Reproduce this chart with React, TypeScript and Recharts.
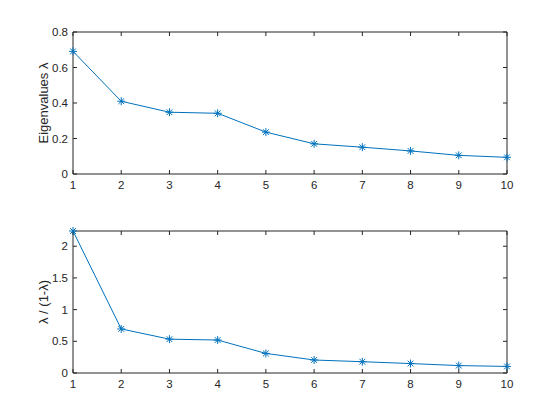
import { LineChart, Line, XAxis, YAxis, Label } from "recharts";

// values
const STEPS = [1, 2, 3, 4, 5, 6, 7, 8, 9, 10];
const EIGENVALUES = [0.691, 0.41, 0.348, 0.342, 0.236, 0.17, 0.151, 0.13, 0.105, 0.094];
const RATIOS = [2.24, 0.695, 0.534, 0.52, 0.309, 0.205, 0.178, 0.149, 0.117, 0.104];

const TOP_TICKS = [0, 0.2, 0.4, 0.6, 0.8];
const BOTTOM_TICKS = [0, 0.5, 1, 1.5, 2];

const data = STEPS.map((step, i) => ({
  step,
  eig: EIGENVALUES[i],
  ratio: RATIOS[i],
}));

const BLUE = "#0072BD";
const INK = "#262626";
const FONT = "'Liberation Sans', Arial, Helvetica, sans-serif";
const tickStyle = { fontSize: 11.5, fill: INK, fontFamily: FONT };

// MATLAB-style '*' marker
function Asterisk(props: any) {
  const { cx, cy } = props;
  if (cx == null || cy == null) return null;
  const r = 4;
  const d = r * 0.72;
  const path =
    `M${cx - r},${cy}L${cx + r},${cy}` +
    `M${cx},${cy - r}L${cx},${cy + r}` +
    `M${cx - d},${cy - d}L${cx + d},${cy + d}` +
    `M${cx - d},${cy + d}L${cx + d},${cy - d}`;
  return <path d={path} stroke={BLUE} strokeWidth={1} fill="none" />;
}

function YTitle({ text }: { text: string }) {
  return (props: any) => {
    const vb = props.viewBox;
    const x = 48;
    const y = vb.y + vb.height / 2;
    return (
      <text
        x={x}
        y={y}
        transform={`rotate(-90, ${x}, ${y})`}
        textAnchor="middle"
        fontSize={13}
        fill={INK}
        fontFamily={FONT}
      >
        {text}
      </text>
    );
  };
}

interface PanelProps {
  dataKey: string;
  domain: [number, number];
  ticks: number[];
  title: string;
  margin: { top: number; right: number; left: number; bottom: number };
}

function Panel({ dataKey, domain, ticks, title, margin }: PanelProps) {
  return (
    <LineChart width={560} height={210} data={data} margin={margin}>
      <XAxis
        type="number"
        dataKey="step"
        domain={[1, 10]}
        ticks={STEPS}
        height={20}
        stroke={INK}
        tickSize={-4}
        tickMargin={11}
        tick={tickStyle}
      />
      {/* top and right axes close the box, ticks only */}
      <XAxis
        xAxisId="top"
        orientation="top"
        type="number"
        dataKey="step"
        domain={[1, 10]}
        ticks={STEPS}
        height={1}
        stroke={INK}
        tickSize={-4}
        tickFormatter={() => ""}
      />
      <YAxis
        type="number"
        domain={domain}
        ticks={ticks}
        width={40}
        stroke={INK}
        tickSize={-4}
        tickMargin={9}
        tick={tickStyle}
      >
        <Label content={YTitle({ text: title })} />
      </YAxis>
      <YAxis
        yAxisId="right"
        orientation="right"
        type="number"
        domain={domain}
        ticks={ticks}
        width={1}
        stroke={INK}
        tickSize={-4}
        tickFormatter={() => ""}
      />
      <Line
        xAxisId="top"
        yAxisId="right"
        type="linear"
        dataKey={dataKey}
        stroke="none"
        dot={false}
        activeDot={false}
        isAnimationActive={false}
      />
      <Line
        type="linear"
        dataKey={dataKey}
        stroke={BLUE}
        strokeWidth={1}
        dot={<Asterisk />}
        activeDot={false}
        isAnimationActive={false}
      />
    </LineChart>
  );
}

export default function App() {
  return (
    <div
      style={{
        position: "absolute",
        left: 0,
        top: 0,
        width: 560,
        height: 420,
        background: "#fff",
      }}
    >
      <Panel
        dataKey="eig"
        domain={[0, 0.8]}
        ticks={TOP_TICKS}
        title="Eigenvalues λ"
        margin={{ top: 31, right: 52, left: 33, bottom: 16 }}
      />
      <Panel
        dataKey="ratio"
        domain={[0, 2.24]}
        ticks={BOTTOM_TICKS}
        title="λ / (1-λ)"
        margin={{ top: 20, right: 52, left: 33, bottom: 27 }}
      />
    </div>
  );
}
